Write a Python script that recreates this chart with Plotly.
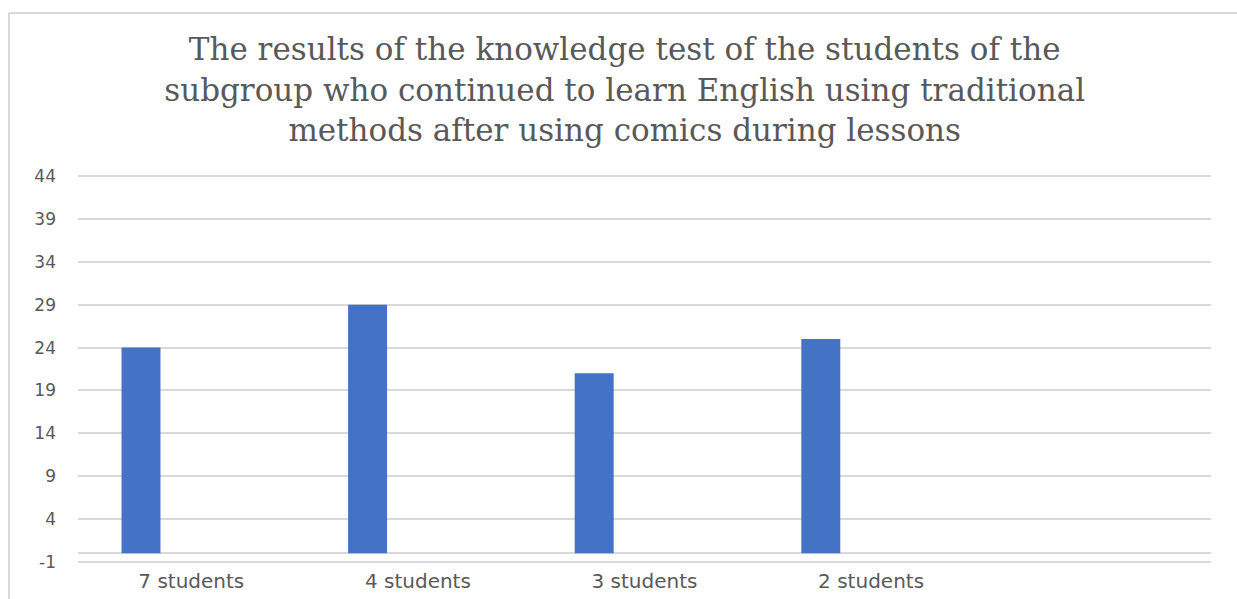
import plotly.graph_objects as go

categories = ["7 students", "4 students", "3 students", "2 students"]
values = [24, 29, 21, 25]
y_ticks = [-1, 4, 9, 14, 19, 24, 29, 34, 39, 44]
y_tick_labels = [str(v) for v in y_ticks]
title_lines = [
    "The results of the knowledge test of the students of the",
    "subgroup who continued to learn English using traditional",
    "methods after using comics during lessons",
]

W, H = 1237, 599
ml, mr, mt, mb = 78, 26, 174, 35
pw, ph = W - ml - mr, H - mt - mb

def px_to_paper_x(px):
    return (px - ml) / pw

def px_to_paper_y(py):
    return (H - mb - py) / ph

fig = go.Figure()
fig.add_trace(go.Bar(
    x=categories,
    y=values,
    marker=dict(color="#4472C4", line=dict(width=0)),
    width=0.172,
    offset=-0.308,
    showlegend=False,
))

fig.update_layout(
    width=W, height=H,
    margin=dict(l=ml, r=mr, t=mt, b=mb, autoexpand=False),
    paper_bgcolor="white",
    plot_bgcolor="white",
    title=dict(
        text="<br>".join(title_lines),
        x=0.505, xanchor="center",
        y=0.899, yanchor="middle",
        font=dict(family="DejaVu Serif", size=31, color="#595959"),
    ),
    font=dict(family="DejaVu Sans", color="#595959"),
    xaxis=dict(
        type="category",
        range=[-0.5, 4.5],
        automargin=False,
        showgrid=False,
        showline=False,
        ticks="",
        tickfont=dict(size=20, color="#595959"),
        ticklabelstandoff=3,
    ),
    yaxis=dict(
        range=[-1.25, 44.25],
        automargin=False,
        tickmode="array",
        tickvals=y_ticks,
        ticktext=y_tick_labels,
        showgrid=True,
        gridcolor="#d9d9d9",
        gridwidth=1.5,
        zeroline=True,
        zerolinecolor="#d9d9d9",
        zerolinewidth=1.5,
        showline=False,
        ticks="",
        tickfont=dict(size=17, color="#595959"),
        ticklabelstandoff=21,
    ),
    shapes=[
        dict(type="line", xref="paper", yref="paper",
             x0=px_to_paper_x(9), x1=px_to_paper_x(W + 20),
             y0=px_to_paper_y(13), y1=px_to_paper_y(13),
             line=dict(color="#d9d9d9", width=2)),
        dict(type="line", xref="paper", yref="paper",
             x0=px_to_paper_x(9), x1=px_to_paper_x(9),
             y0=px_to_paper_y(13), y1=px_to_paper_y(H + 20),
             line=dict(color="#d9d9d9", width=2)),
    ],
)

fig.write_html(
    "out.html",
    config={"displayModeBar": False},
    post_script="document.body.style.margin='0';",
)
